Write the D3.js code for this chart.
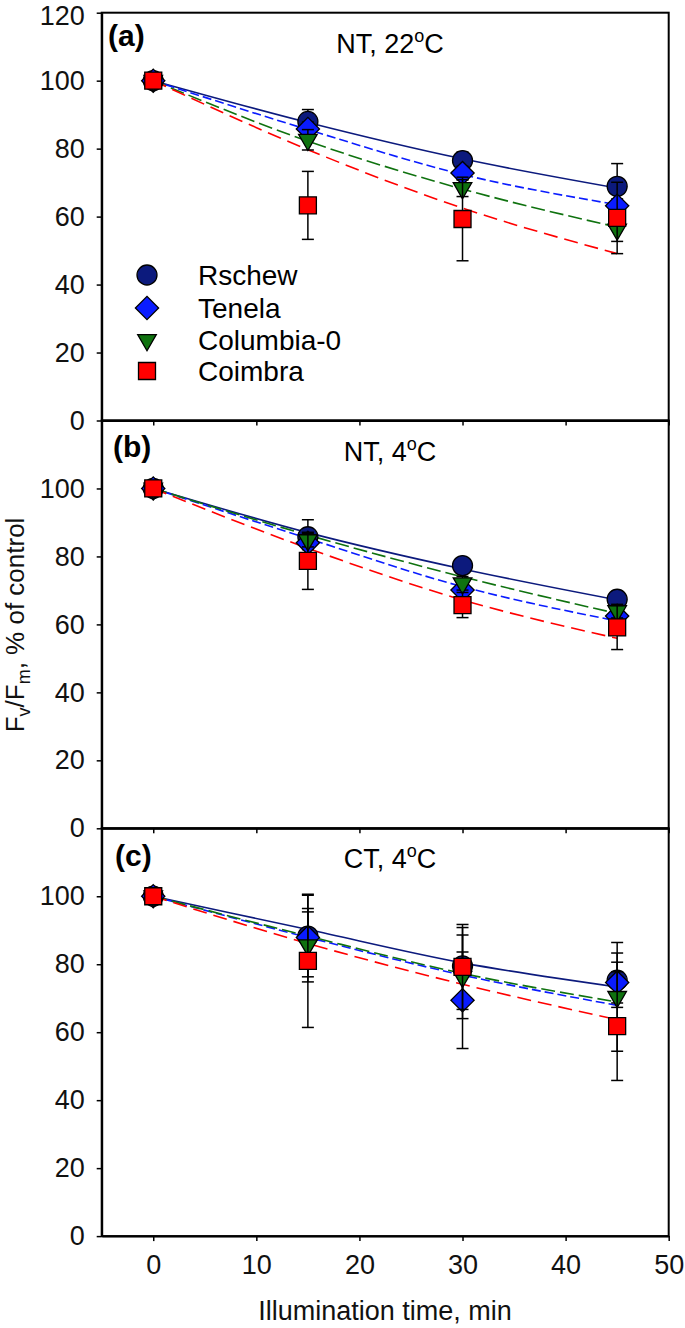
<!DOCTYPE html>
<html>
<head>
<meta charset="utf-8">
<script src="https://cdn.jsdelivr.net/npm/d3@7"></script>
<style>
  html, body { margin: 0; padding: 0; background: #fff; }
  svg { display: block; font-family: "Liberation Sans", Arial, sans-serif; }
</style>
</head>
<body>
<svg id="chart" width="685" height="1328"></svg>
<script>
// ---------------- DATA ----------------
const times = [0, 15, 30, 45];
const seriesNames = ["Rschew", "Tenela", "Columbia-0", "Coimbra"];
const panelLabels = ["(a)", "(b)", "(c)"];
const panelTitles = [["NT, 22", "C"], ["NT, 4", "C"], ["CT, 4", "C"]];
const xTicks = [0, 10, 20, 30, 40, 50];
const yTicks = [0, 20, 40, 60, 80, 100, 120];
const xTitle = "Illumination time, min";

// Panel (a) NT, 22°C : means, errors, fitted curve
const aRschew = [100, 88.0, 76.5, 68.9];
const aRschewErr = [0, 3.5, 2.5, 6.7];
const aTenela = [100, 85.8, 72.8, 63.2];
const aTenelaErr = [0, 2, 2, 2];
const aColumbia = [100, 82.6, 68.4, 56.2];
const aColumbiaErr = [0, 3, 2.5, 3.5];
const aCoimbra = [100, 63.3, 59.3, 59.6];
const aCoimbraErr = [0, 10, 12.3, 10.5];
const aFitRschew = [100, 87.7, 77.0, 68.4];
const aFitTenela = [100, 85.6, 72.4, 63.5];
const aFitColumbia = [100, 82.2, 68.1, 56.9];
const aFitCoimbra = [100, 79.7, 62.5, 49.1];

// Panel (b) NT, 4°C
const bRschew = [100, 85.8, 77.3, 67.4];
const bRschewErr = [0, 5, 2, 2];
const bTenela = [100, 84.0, 70.1, 62.5];
const bTenelaErr = [0, 2, 2, 2];
const bColumbia = [100, 84.8, 72.1, 63.9];
const bColumbiaErr = [0, 2, 2, 2];
const bCoimbra = [100, 78.7, 65.7, 59.1];
const bCoimbraErr = [0, 8.4, 3.7, 6.5];
const bFitRschew = [100, 87.0, 76.3, 67.2];
const bFitTenela = [100, 85.3, 71.1, 61.0];
const bFitColumbia = [100, 86.3, 74.0, 63.2];
const bFitCoimbra = [100, 82.4, 67.2, 55.9];

// Panel (c) CT, 4°C
const cRschew = [100, 88.3, 79.5, 75.3];
const cRschewErr = [0, 12, 11.3, 8];
const cTenela = [100, 87.9, 69.4, 74.6];
const cTenelaErr = [0, 7.5, 14.2, 6];
const cColumbia = [100, 85.6, 76.3, 70.4];
const cColumbiaErr = [0, 10.8, 12.3, 16];
const cCoimbra = [100, 81.0, 79.2, 61.8];
const cCoimbraErr = [0, 19.6, 12.5, 16];
const cFitRschew = [100, 90.2, 80.4, 73.3];
const cFitTenela = [100, 87.9, 76.8, 67.9];
const cFitColumbia = [100, 88.3, 77.3, 68.9];
const cFitCoimbra = [100, 86.1, 74.1, 63.7];

// ---------------- STYLE ----------------
const styles = [
  { color: "#0c1a7d", symbol: d3.symbolCircle, size: 314, dash: null, rot: 0 },
  { color: "#0a1cff", symbol: d3.symbolSquare, size: 270, dash: "9,4", rot: 45 },
  { color: "#0f720f", symbol: d3.symbolTriangle, size: 150, dash: "14,5", rot: 180 },
  { color: "#ff0000", symbol: d3.symbolSquare, size: 289, dash: "14,7", rot: 0 }
];

const panels = [
  { label: panelLabels[0], title: panelTitles[0],
    means: [aRschew, aTenela, aColumbia, aCoimbra],
    errs: [aRschewErr, aTenelaErr, aColumbiaErr, aCoimbraErr],
    fits: [aFitRschew, aFitTenela, aFitColumbia, aFitCoimbra],
    top: 12.7, labX: 108, labDy: 33, legend: true, xLabels: false, topLabel: true },
  { label: panelLabels[1], title: panelTitles[1],
    means: [bRschew, bTenela, bColumbia, bCoimbra],
    errs: [bRschewErr, bTenelaErr, bColumbiaErr, bCoimbraErr],
    fits: [bFitRschew, bFitTenela, bFitColumbia, bFitCoimbra],
    top: 420.5, labX: 113, labDy: 36, legend: false, xLabels: false, topLabel: false },
  { label: panelLabels[2], title: panelTitles[2],
    means: [cRschew, cTenela, cColumbia, cCoimbra],
    errs: [cRschewErr, cTenelaErr, cColumbiaErr, cCoimbraErr],
    fits: [cFitRschew, cFitTenela, cFitColumbia, cFitCoimbra],
    top: 828.3, labX: 115, labDy: 38, legend: false, xLabels: true, topLabel: false }
];

const svg = d3.select("#chart");
const left = 101.7, right = 668.7, panelH = 407.8;
const x = d3.scaleLinear().domain([-5, 50]).range([left, right]);

panels.forEach((p, pi) => {
  const bottom = p.top + panelH;
  const y = d3.scaleLinear().domain([0, 120]).range([bottom, p.top]);
  const g = svg.append("g");

  // frame
  g.append("rect").attr("x", left).attr("y", p.top)
    .attr("width", right - left).attr("height", panelH)
    .attr("fill", "none").attr("stroke", "#000").attr("stroke-width", 2);

  // y axis
  const yAx = d3.axisLeft(y).tickValues(p.topLabel ? yTicks : yTicks.slice(0, 6))
    .tickSize(5).tickSizeOuter(0).tickPadding(12);
  const ya = g.append("g").attr("transform", `translate(${left},0)`).call(yAx);
  ya.select(".domain").attr("stroke-width", 2);
  ya.selectAll(".tick line").attr("stroke-width", 1.5);
  ya.selectAll(".tick text").attr("font-size", 27).attr("fill", "#111")
    .attr("font-family", "Liberation Sans, Arial, sans-serif");
  // keep the top label fully inside the page
  ya.selectAll(".tick text").filter(d => d === 120).attr("dy", "0.43em");

  // x axis
  const xAx = d3.axisBottom(x).tickValues(xTicks).tickSize(5).tickSizeOuter(0).tickPadding(14);
  if (!p.xLabels) xAx.tickFormat("");
  const xa = g.append("g").attr("transform", `translate(0,${bottom})`).call(xAx);
  xa.select(".domain").attr("stroke-width", 2);
  xa.selectAll(".tick line").attr("stroke-width", 1.5);
  xa.selectAll(".tick text").attr("font-size", 27).attr("fill", "#111")
    .attr("font-family", "Liberation Sans, Arial, sans-serif");

  // panel label
  g.append("text").attr("x", p.labX).attr("y", p.top + p.labDy)
    .attr("font-size", 30).attr("font-weight", "bold").text(p.label);

  // panel title
  const t = g.append("text").attr("x", 390).attr("y", p.top + 40)
    .attr("text-anchor", "middle").attr("font-size", 27);
  t.append("tspan").text(p.title[0]);
  t.append("tspan").attr("dy", -11).attr("font-size", 18).text("o");
  t.append("tspan").attr("dy", 11).text(p.title[1]);

  // fitted curves
  const line = d3.line().x((d, i) => x(times[i])).y(d => y(d)).curve(d3.curveMonotoneX);
  p.fits.forEach((f, si) => {
    g.append("path").attr("d", line(f)).attr("fill", "none")
      .attr("stroke", styles[si].color).attr("stroke-width", 1.6)
      .attr("stroke-dasharray", styles[si].dash);
  });

  // error bars + markers, series by series
  p.means.forEach((m, si) => {
    const st = styles[si];
    const e = p.errs[si];
    const sg = g.append("g");
    times.forEach((tv, i) => {
      if (e[i] > 0) {
        const cx = x(tv), y1 = y(m[i] + e[i]), y2 = y(m[i] - e[i]);
        sg.append("line").attr("x1", cx).attr("x2", cx).attr("y1", y1).attr("y2", y2)
          .attr("stroke", "#000").attr("stroke-width", 1.5);
        [y1, y2].forEach(yy => sg.append("line").attr("x1", cx - 6).attr("x2", cx + 6)
          .attr("y1", yy).attr("y2", yy).attr("stroke", "#000").attr("stroke-width", 1.5));
      }
    });
    times.forEach((tv, i) => {
      sg.append("path")
        .attr("d", d3.symbol().type(st.symbol).size(st.size)())
        .attr("transform", `translate(${x(tv)},${y(m[i])}) rotate(${st.rot})`)
        .attr("fill", st.color).attr("stroke", "#000").attr("stroke-width", 1.3);
    });
  });

  // legend
  if (p.legend) {
    const rows = [275, 308, 340, 371];
    seriesNames.forEach((name, si) => {
      const st = styles[si];
      g.append("path")
        .attr("d", d3.symbol().type(st.symbol).size(st.size)())
        .attr("transform", `translate(147,${rows[si]}) rotate(${st.rot})`)
        .attr("fill", st.color).attr("stroke", "#000").attr("stroke-width", 1.3);
      g.append("text").attr("x", 198).attr("y", rows[si] + 10)
        .attr("font-size", 28).text(name);
    });
  }
});

// axis titles
svg.append("text").attr("x", 385).attr("y", 1320).attr("text-anchor", "middle")
  .attr("font-size", 27).attr("fill", "#111").text(xTitle);

const yt = svg.append("text").attr("transform", "translate(24,625) rotate(-90)")
  .attr("text-anchor", "middle").attr("font-size", 26).attr("fill", "#111");
yt.append("tspan").text("F");
yt.append("tspan").attr("dy", 6).attr("font-size", 18).text("v");
yt.append("tspan").attr("dy", -6).text("/F");
yt.append("tspan").attr("dy", 6).attr("font-size", 18).text("m");
yt.append("tspan").attr("dy", -6).text(",  % of control");
</script>
</body>
</html>
